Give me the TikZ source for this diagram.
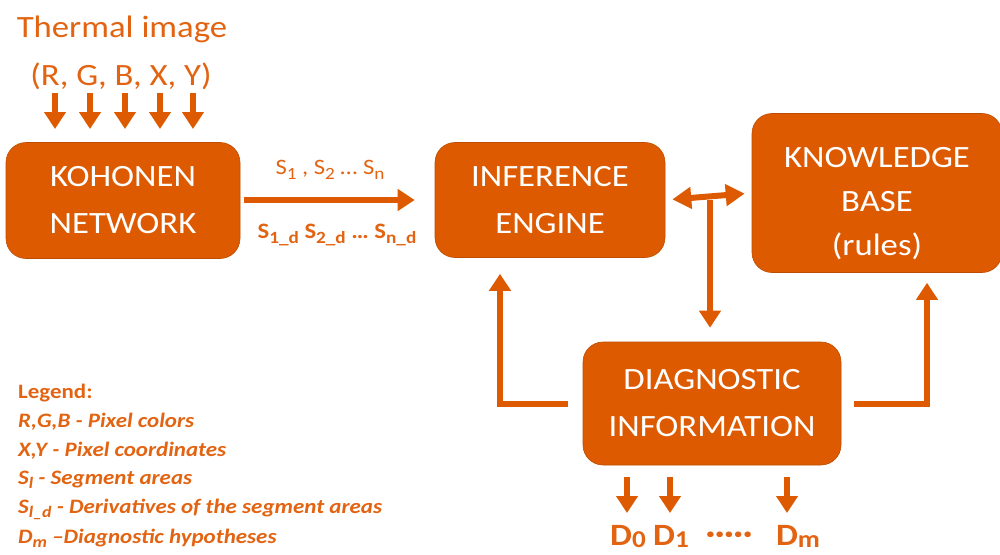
\documentclass[tikz,border=0pt]{standalone}
\usepackage{fontspec}
\setmainfont{Carlito}[FakeStretch=1.12]
\usetikzlibrary{arrows.meta}
\definecolor{boxor}{RGB}{222,90,0}
\definecolor{txtor}{RGB}{226,100,18}
% large, slightly lowered subscript
\newcommand\lsub[1]{\raisebox{-0.2em}{\scalebox{0.78}{#1}}}
\newcommand\hsub[1]{\raisebox{-0.08em}{\scalebox{0.78}{#1}}}
\begin{document}
\begin{tikzpicture}[x=1pt,y=-1pt,
  block/.style={fill=boxor, draw=boxor!85!black, line width=0.6pt, rounded corners=20pt,
    text=white, align=center, inner sep=0pt,
    font=\fontsize{31}{47}\selectfont},
  fat/.style={draw=boxor, line width=6pt, -{Triangle[width=21pt,length=17pt]}},
  dfat/.style={draw=boxor, line width=6pt, {Triangle[width=21pt,length=19pt]}-{Triangle[width=21pt,length=19pt]}},
  lbl/.style={text=txtor, inner sep=0pt},
  dlab/.style={lbl, anchor=base, font=\fontsize{31}{34}\selectfont\bfseries},
  legend/.style={text=txtor, inner sep=0pt, anchor=west,
    font=\fontsize{20.5}{29}\selectfont\bfseries\itshape}
]
\useasboundingbox (0,0) rectangle (1000,554);

% processing blocks
\node[block, minimum width=234pt, minimum height=116pt] (koh) at (123,200.5) {KOHONEN\\NETWORK};
\node[block, minimum width=230pt, minimum height=115pt] (inf) at (550,200) {INFERENCE\\ENGINE};
\node[block, minimum width=250pt, minimum height=159pt] (kb) at (877,193)
  {\raisebox{-15pt}[0pt][0pt]{\begin{tabular}{@{}c@{}}KNOWLEDGE\\[-3pt]BASE\\[-3pt](rules)\end{tabular}}};
\node[block, minimum width=258pt, minimum height=123pt] (diag) at (712,403.5) {DIAGNOSTIC\\INFORMATION};

% thermal image inputs
\node[lbl, font=\fontsize{31}{36}\selectfont] (title) at (122,29) {Thermal image};
\node[lbl, font=\fontsize{31}{36}\selectfont] (chan) at (121,76) {(R, G, B, X, Y)};
\foreach \i/\x in {1/55,2/90,3/125,4/160,5/193}{
  \coordinate (in\i) at (\x,93);
  \coordinate (out\i) at (\x,129);
  \draw[fat] (in\i) -- (out\i);
}

% segment areas to inference engine
\draw[fat, shorten <=4pt, shorten >=20pt] (koh.east |- inf.west) -- (inf.west);
\node[lbl, font=\fontsize{22}{26}\selectfont] (segs) at (330,170)
  {S\lsub{1} , S\lsub{2} … S\lsub{n}};
\node[lbl, font=\fontsize{22}{26}\selectfont\bfseries] (dsegs) at (337,235)
  {S\lsub{1\_d} S\lsub{2\_d} … S\lsub{n\_d}};

% inference engine <-> knowledge base, with branch to diagnostics
\draw[dfat, shorten <=7pt, shorten >=7pt] (inf.east) -- (kb.west);
\coordinate (tee) at (710,200);
\draw[fat, shorten >=14pt] (tee) -- (tee |- diag.north);

% feedback loops
\coordinate (lx) at (500,0);
\coordinate (rx) at (927,0);
\draw[fat, shorten <=15pt, shorten >=16pt] (diag.west) -| (lx |- inf.south);
\draw[fat, shorten <=13pt, shorten >=10pt] (diag.east) -| (rx |- kb.south);

% diagnostic hypotheses
\node[dlab] (d0) at (628,545) {D\hsub{0}};
\node[dlab] (d1) at (671,545) {D\hsub{1}};
\node[dlab] (dd) at (729,543) {·····};
\node[dlab] (dm) at (798,545) {D\hsub{m}};
\foreach \x/\n in {627/a,670/b,787/c}{
  \coordinate (t\n) at (\x,477);
  \coordinate (b\n) at (\x,513);
  \draw[fat] (t\n) -- (b\n);
}

% legend
\node[legend, font=\fontsize{20.5}{29}\selectfont\bfseries] (lg0) at (18,393) {Legend:};
\node[legend] (lg1) at (18,422) {R,G,B - Pixel colors};
\node[legend] (lg2) at (18,451) {X,Y - Pixel coordinates};
\node[legend] (lg3) at (18,480) {S\lsub{l} - Segment areas};
\node[legend] (lg4) at (18,509) {S\lsub{l\_d} - Derivatives of the segment areas};
\node[legend] (lg5) at (18,538) {D\lsub{m} –Diagnostic hypotheses};
\end{tikzpicture}
\end{document}
